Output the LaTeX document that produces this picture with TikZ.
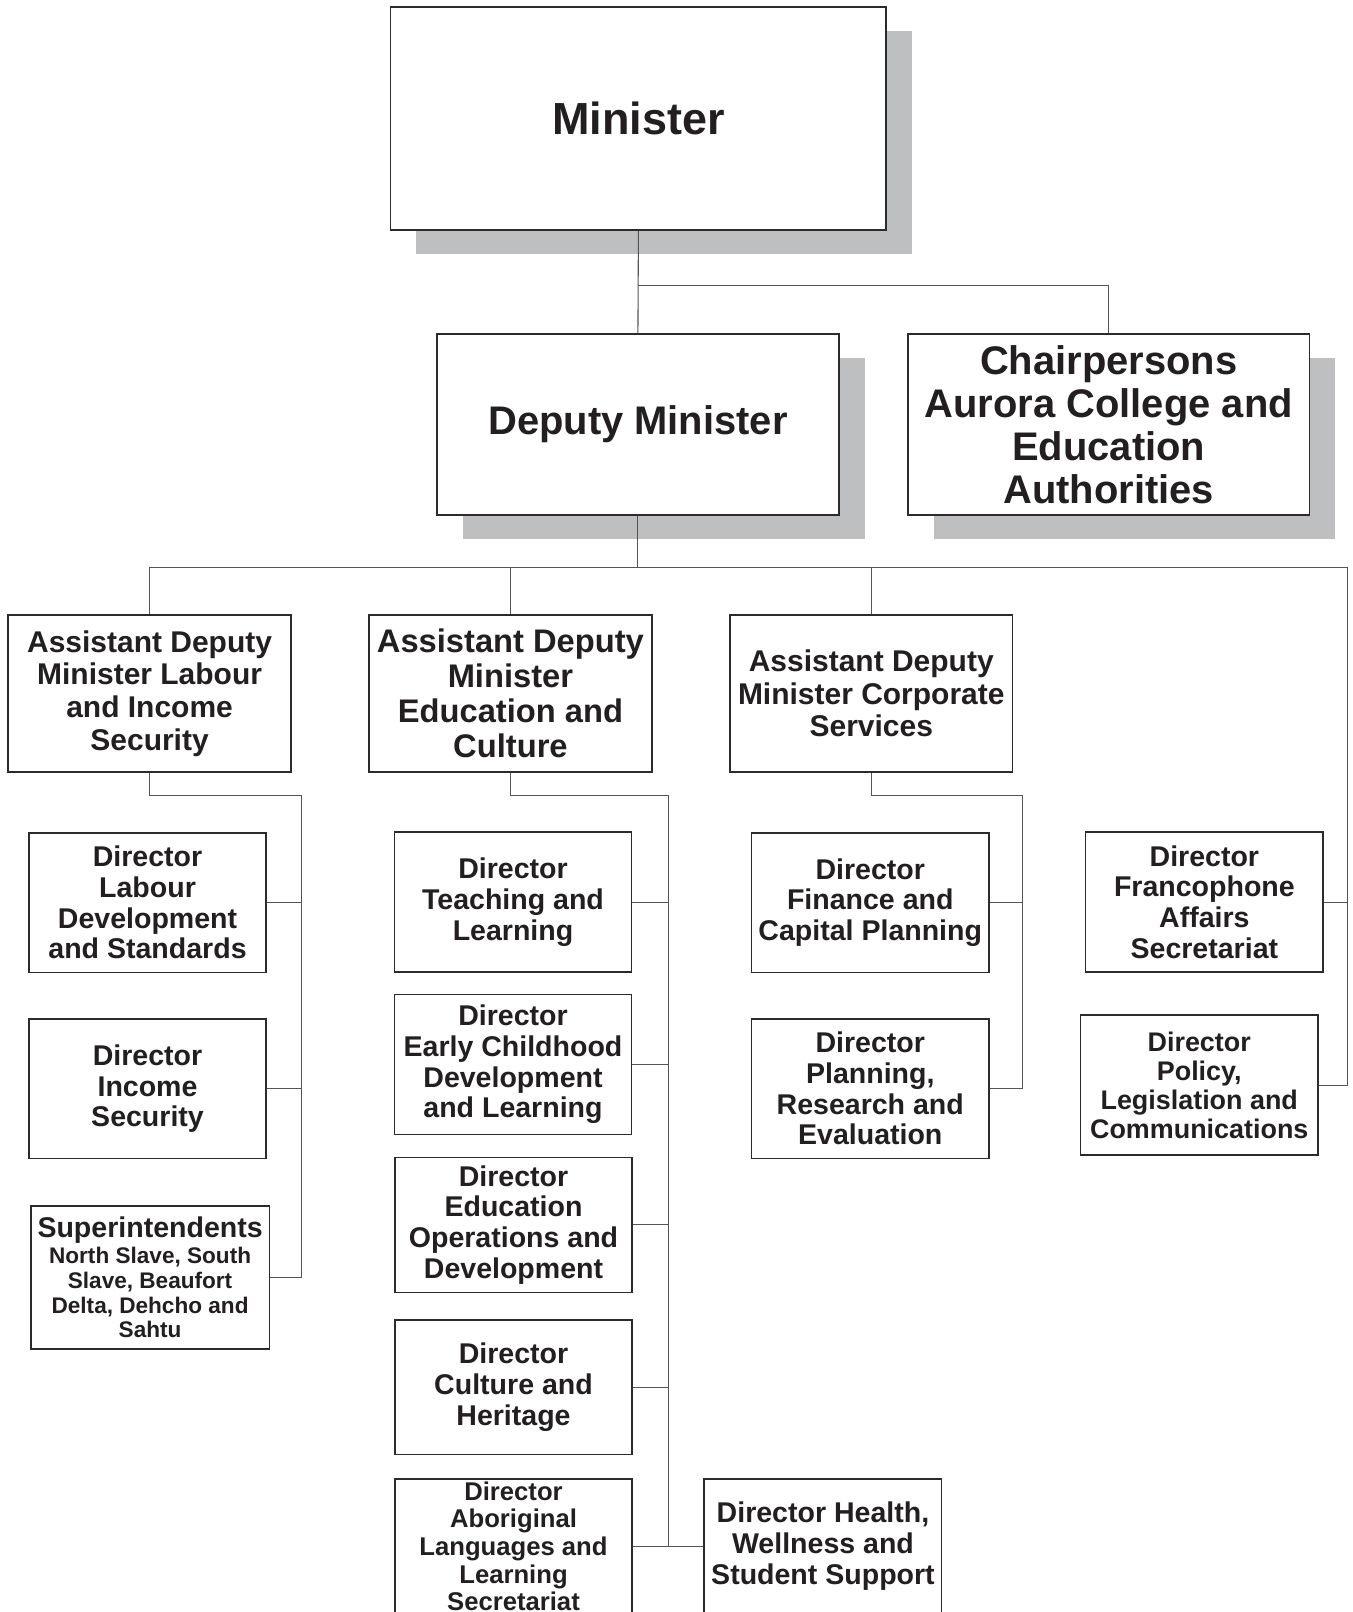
\documentclass[tikz,border=0pt]{standalone}
\usepackage{fontspec}
\setmainfont{Liberation Sans}
\usepackage{xcolor}
\usepackage{tikz}
\usetikzlibrary{
positioning,
shadows
}
\definecolor{ink}{RGB}{35,31,32}
\definecolor{frame}{RGB}{45,42,43}
\definecolor{wire}{RGB}{85,85,88}
\definecolor{shade}{RGB}{190,191,193}

\begin{document}
\begin{tikzpicture}[
x=0.02cm,
y=-0.02cm,
box/.style={
draw=frame,
line width=0.85pt,
fill=white,
text=ink,
align=center,
inner sep=0pt
},
shadowed/.style={
box,
drop shadow={shadow xshift=0.5cm,shadow yshift=-0.46cm,fill=shade,opacity=1}
},
minbox/.style={shadowed,minimum width=9.64cm,minimum height=4.34cm,
font=\fontsize{24.9}{30}\selectfont\bfseries},
depbox/.style={shadowed,minimum width=7.82cm,minimum height=3.52cm,
font=\fontsize{22.1}{23.8}\selectfont\bfseries},
admbox/.style={box,minimum width=5.5cm,minimum height=3.06cm,
font=\fontsize{16.6}{18.1}\selectfont\bfseries},
dirbox/.style={box,minimum width=4.62cm,minimum height=2.72cm,
font=\fontsize{15.8}{17}\selectfont\bfseries},
link/.style={draw=wire,line width=0.6pt}
]

\useasboundingbox (0,0) rectangle (1316,1568);

\node[minbox] (minister) at (621,115.5) {Minister};
\node[depbox] (deputy) at (620.5,413) {Deputy Minister};
\node[depbox] (chair) at (1078.5,413) {Chairpersons\\Aurora College and\\Education\\Authorities};

\node[admbox] (adm1) at (145.5,674.5) {Assistant Deputy\\Minister Labour\\and Income\\Security};
\node[admbox,font=\fontsize{18.1}{19.4}\selectfont\bfseries] (adm2) at (496.5,674.5) {Assistant Deputy\\Minister\\Education and\\Culture};
\node[admbox] (adm3) at (847.5,674.5) {Assistant Deputy\\Minister Corporate\\Services};

\node[dirbox] (labour) at (143.5,878) {Director\\Labour\\Development\\and Standards};
\node[dirbox] (income) at (143.5,1059) {Director\\Income\\Security};
\node[dirbox,minimum width=4.64cm,minimum height=2.78cm,font=\fontsize{12.5}{13.6}\selectfont\bfseries] (super) at (146,1242.5) {{\fontsize{15.8}{17}\selectfont Superintendents}\\[1pt]North Slave, South\\Slave, Beaufort\\Delta, Dehcho and\\Sahtu};

\node[dirbox] (teach) at (499,877.5) {Director\\Teaching and\\Learning};
\node[dirbox] (early) at (499,1035.5) {Director\\Early Childhood\\Development\\and Learning};
\node[dirbox,minimum height=2.62cm] (edops) at (499.5,1191.5) {Director\\Education\\Operations and\\Development};
\node[dirbox,minimum height=2.62cm] (culture) at (499.5,1349.5) {Director\\Culture and\\Heritage};
\node[dirbox,minimum height=2.62cm,font=\fontsize{14.2}{15.3}\selectfont\bfseries] (abor) at (499.5,1504) {Director\\Aboriginal\\Languages and\\Learning\\Secretariat};
\node[dirbox,minimum height=2.62cm] (health) at (800.5,1504) {Director Health,\\Wellness and\\Student Support};

\node[dirbox] (finance) at (846.5,878) {Director\\Finance and\\Capital Planning};
\node[dirbox] (planning) at (846.5,1059) {Director\\Planning,\\Research and\\Evaluation};

\node[dirbox] (franco) at (1171.5,877.5) {Director\\Francophone\\Affairs\\Secretariat};
\node[dirbox,font=\fontsize{14.9}{16}\selectfont\bfseries] (policy) at (1166.5,1055.5) {Director\\Policy,\\Legislation and\\Communications};

\coordinate (split) at (621,278);
\coordinate (hub) at (620.5,552);
\coordinate (rbus) at (1311,552);
\coordinate (bus1) at (293,774);
\coordinate (bus2) at (650,774);
\coordinate (bus3) at (995,774);

\draw[link] (minister.south) -- (deputy.north);
\draw[link] (split) -| (chair.north);
\draw[link] (deputy.south) -- (hub);
\draw[link] (adm1.north) |- (hub) -- (rbus) |- (policy.east);
\draw[link] (hub) -| (adm2.north);
\draw[link] (hub) -| (adm3.north);
\draw[link] (franco.east) -- (franco.east -| rbus);

\draw[link] (adm1.south) |- (bus1) |- (super.east);
\draw[link] (labour.east) -- (labour.east -| bus1);
\draw[link] (income.east) -- (income.east -| bus1);

\draw[link] (adm2.south) |- (bus2) -- (bus2 |- abor.east);
\draw[link] (abor.east) -- (health.west);
\draw[link] (teach.east) -- (teach.east -| bus2);
\draw[link] (early.east) -- (early.east -| bus2);
\draw[link] (edops.east) -- (edops.east -| bus2);
\draw[link] (culture.east) -- (culture.east -| bus2);

\draw[link] (adm3.south) |- (bus3) |- (planning.east);
\draw[link] (finance.east) -- (finance.east -| bus3);

\end{tikzpicture}
\end{document}
